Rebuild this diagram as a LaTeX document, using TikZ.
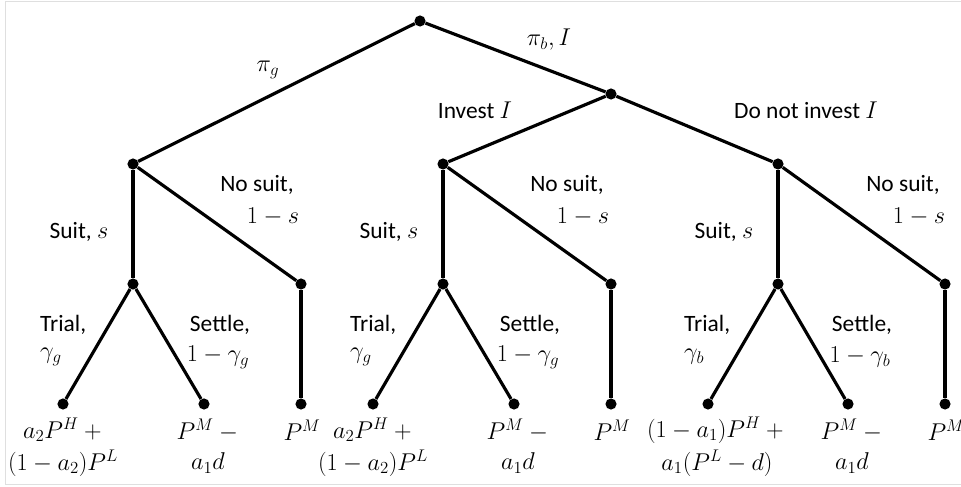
\documentclass[tikz,border=0pt]{standalone}
\usepackage{fontspec}
\setmainfont{Carlito}
\begin{document}
\begin{tikzpicture}[x=0.03cm,y=-0.03cm,
  font=\fontsize{20}{24}\selectfont,
  dot/.style={circle,fill=black,inner sep=0pt,minimum size=9.5pt},
  br/.style={line width=2.7pt},
  lbl/.style={inner sep=0pt}]
\useasboundingbox (0,0) rectangle (961,487);
\draw[gray!25, line width=0.8pt] (961,1) -- (5,1) -- (5,484) -- (961,484);
% decision nodes
\node[dot] (root) at (420,21) {};
\node[dot] (A) at (133,164) {};
\node[dot] (B) at (611,94) {};
\node[dot] (C) at (443,164) {};
\node[dot] (D) at (778,164) {};
% suit nodes
\node[dot] (sA) at (133,284) {};
\node[dot] (sC) at (443,284) {};
\node[dot] (sD) at (778,284) {};
% no-suit nodes
\node[dot] (nA) at (301,284) {};
\node[dot] (nC) at (611,284) {};
\node[dot] (nD) at (945,284) {};
% leaves
\node[dot] (tA) at (63,404) {};
\node[dot] (eA) at (204,404) {};
\node[dot] (pA) at (301,404) {};
\node[dot] (tC) at (373,404) {};
\node[dot] (eC) at (514,404) {};
\node[dot] (pC) at (611,404) {};
\node[dot] (tD) at (708,404) {};
\node[dot] (eD) at (848,404) {};
\node[dot] (pD) at (945,404) {};
% branches
\draw[br] (root) -- (A);
\draw[br] (root) -- (B);
\draw[br] (B) -- (C);
\draw[br] (B) -- (D);
\foreach \g in {A,C,D}{
  \draw[br] (\g) -- (s\g);
  \draw[br] (\g) -- (n\g);
  \draw[br] (s\g) -- (t\g);
  \draw[br] (s\g) -- (e\g);
  \draw[br] (n\g) -- (p\g);
}
% top labels
\node[lbl] (lpig) at (268,70) {$\pi_g$};
\node[lbl] (lpib) at (549,40) {$\pi_b, I$};
\node[lbl] (linv) at (475,110) {Invest $I$};
\node[lbl] (lnot) at (806,110) {Do not invest $I$};
% group A labels
\node[lbl] (nsA1) at (257,185) {No suit,};
\node[lbl] (nsA2) at (273,217) {$1-s$};
\node[lbl] (suA) at (79,232) {Suit, $s$};
\node[lbl,anchor=west] (trA1) at (40,325) {Trial,};
\node[lbl,anchor=west] (trA2) at (40,357) {$\gamma_g$};
\node[lbl] (seA1) at (220,325) {Settle,};
\node[lbl] (seA2) at (218,357) {$1-\gamma_g$};
\node[lbl] (vtA1) at (65,430) {$a_2P^H+{}$};
\node[lbl] (vtA2) at (63,463) {$(1-a_2)P^L$};
\node[lbl] (veA1) at (210,430) {$P^M-{}$};
\node[lbl] (veA2) at (208,463) {$a_1d$};
\node[lbl] (vpA) at (302,430) {$P^M$};
% group C labels
\node[lbl] (nsC1) at (567,185) {No suit,};
\node[lbl] (nsC2) at (583,217) {$1-s$};
\node[lbl] (suC) at (389,232) {Suit, $s$};
\node[lbl,anchor=west] (trC1) at (350,325) {Trial,};
\node[lbl,anchor=west] (trC2) at (350,357) {$\gamma_g$};
\node[lbl] (seC1) at (530,325) {Settle,};
\node[lbl] (seC2) at (528,357) {$1-\gamma_g$};
\node[lbl] (vtC1) at (375,430) {$a_2P^H+{}$};
\node[lbl] (vtC2) at (373,463) {$(1-a_2)P^L$};
\node[lbl] (veC1) at (520,430) {$P^M-{}$};
\node[lbl] (veC2) at (518,463) {$a_1d$};
\node[lbl] (vpC) at (612,430) {$P^M$};
% group D labels
\node[lbl] (nsD1) at (903,185) {No suit,};
\node[lbl] (nsD2) at (919,217) {$1-s$};
\node[lbl] (suD) at (724,232) {Suit, $s$};
\node[lbl,anchor=west] (trD1) at (684,325) {Trial,};
\node[lbl,anchor=west] (trD2) at (684,357) {$\gamma_b$};
\node[lbl] (seD1) at (862,325) {Settle,};
\node[lbl] (seD2) at (860,357) {$1-\gamma_b$};
\node[lbl] (vtD1) at (718,430) {$(1-a_1)P^H+{}$};
\node[lbl] (vtD2) at (717,463) {$a_1(P^L-d)$};
\node[lbl] (veD1) at (854,430) {$P^M-{}$};
\node[lbl] (veD2) at (852,463) {$a_1d$};
\node[lbl] (vpD) at (946,430) {$P^M$};
\end{tikzpicture}
\end{document}
